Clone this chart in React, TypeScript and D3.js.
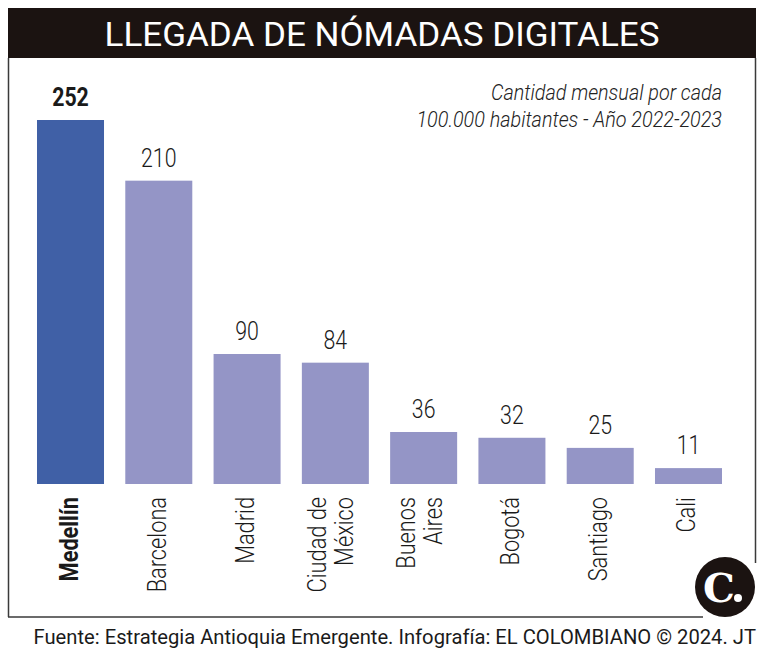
import React from "react";
import * as d3 from "d3";

const cities = ["Medellín", "Barcelona", "Madrid", "Ciudad de México", "Buenos Aires", "Bogotá", "Santiago", "Cali"];
const labelLines = [["Medellín"], ["Barcelona"], ["Madrid"], ["Ciudad de", "México"], ["Buenos", "Aires"], ["Bogotá"], ["Santiago"], ["Cali"]];
const values = [252, 210, 90, 84, 36, 32, 25, 11];
const highlight = "Medellín";

const W = 767;
const H = 655;
const COND = "Roboto, 'Liberation Sans', sans-serif";

export default function App() {
  const x = d3.scaleBand<string>().domain(cities).range([37, 722]).paddingInner(0.241).paddingOuter(0);
  const y = d3.scaleLinear().domain([0, 252]).range([484, 120]);

  return (
    <svg width={W} height={H} style={{ position: "absolute", left: 0, top: 0, background: "#fff" }}>
      <rect x={0} y={0} width={W} height={H} fill="#fff" />
      {/* title bar */}
      <rect x={8} y={8} width={748} height={50} fill="#1b1311" />
      <g transform="translate(382,46) scale(1.03,1)">
        <text textAnchor="middle" fill="#fff" fontFamily={COND} fontSize={34} fontWeight={400}>
          LLEGADA DE NÓMADAS DIGITALES
        </text>
      </g>
      {/* frame */}
      <line x1={8.5} y1={58} x2={8.5} y2={617} stroke="#3a3a3a" strokeWidth={1.5} />
      <line x1={755.5} y1={58} x2={755.5} y2={563} stroke="#3a3a3a" strokeWidth={1.5} />
      <line x1={8} y1={617} x2={703} y2={617} stroke="#3a3a3a" strokeWidth={1.5} />

      {/* subtitle */}
      <g transform="translate(722,100) scale(0.9,1)">
        <text textAnchor="end" fill="#222" fontFamily={COND} fontStyle="italic" fontWeight={300} fontSize={22}>
          Cantidad mensual por cada
        </text>
      </g>
      <g transform="translate(722,127) scale(0.9,1)">
        <text textAnchor="end" fill="#222" fontFamily={COND} fontStyle="italic" fontWeight={300} fontSize={22}>
          100.000 habitantes - Año 2022-2023
        </text>
      </g>

      {/* bars */}
      {cities.map((c, i) => {
        const bx = x(c)!;
        const bw = x.bandwidth();
        const isH = c === highlight;
        const cx = bx + bw / 2;
        const lines = labelLines[i];
        return (
          <g key={c}>
            <rect x={bx} y={y(values[i])} width={bw} height={y(0) - y(values[i])} fill={isH ? "#4060a6" : "#9495c6"} />
            <g transform={`translate(${cx},${y(values[i]) - 14}) scale(0.82,1)`}>
              <text textAnchor="middle" fill="#1a1a1a" fontFamily={COND} fontSize={26} fontWeight={isH ? 700 : 300}>
                {values[i]}
              </text>
            </g>
            {lines.map((ln, j) => {
              const off = lines.length === 1 ? 7 : j === 0 ? -9 : 18;
              return (
                <g key={j} transform={`translate(${cx + off},497) rotate(-90) scale(0.87,1)`}>
                  <text textAnchor="end" fill="#1a1a1a" fontFamily={COND} fontSize={25} fontWeight={isH ? 700 : 300}>
                    {ln}
                  </text>
                </g>
              );
            })}
          </g>
        );
      })}

      {/* logo */}
      <circle cx={725} cy={587} r={30} fill="#1b1311" />
      <text x={719} y={602} textAnchor="middle" fill="#fff" fontFamily="'DejaVu Serif', 'Liberation Serif', serif" fontWeight={700} fontSize={40}>
        C
      </text>
      <circle cx={738} cy={598} r={4} fill="#fff" />

      {/* footer */}
      <g transform="translate(756,644) scale(1.01,1)">
        <text textAnchor="end" fill="#1a1a1a" fontFamily={COND} fontSize={20} fontWeight={400}>
          Fuente: Estrategia Antioquia Emergente. Infografía: EL COLOMBIANO © 2024. JT
        </text>
      </g>
    </svg>
  );
}
